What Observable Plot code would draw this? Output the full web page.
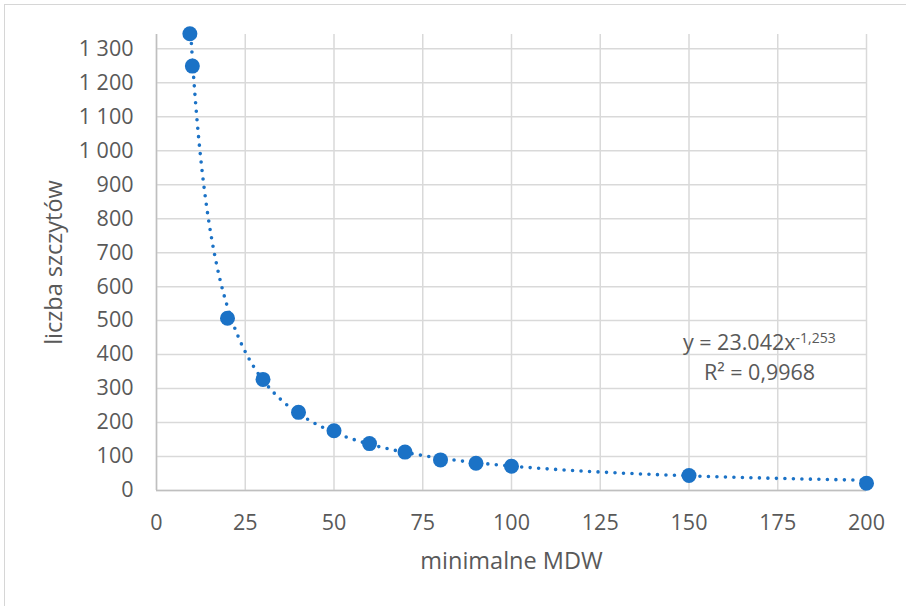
<!DOCTYPE html>
<html>
<head>
<meta charset="utf-8">
<script src="https://cdn.jsdelivr.net/npm/d3@7"></script>
<script src="https://cdn.jsdelivr.net/npm/@observablehq/plot@0.6"></script>
<style>
  html, body { margin: 0; padding: 0; background: #fff; }
  #wrap { position: relative; width: 906px; height: 606px; overflow: hidden; }
  #border { position: absolute; left: 4px; top: 4px; width: 960px; height: 660px; border-top: 1px solid #d6d6d6; border-left: 1px solid #d6d6d6; }
  #chart { position: absolute; left: 0; top: 0; }
</style>
</head>
<body>
<div id="wrap"><div id="border"></div><div id="chart"></div></div>
<script>
// Data
const mdw = [9.4, 10.1, 20, 30, 40, 50, 60, 70, 80, 90, 100, 150, 200];
const peaks = [1344, 1249, 507, 327, 230, 176, 138, 113, 90, 80, 71.5, 44, 21.5];
const xTicks = [0, 25, 50, 75, 100, 125, 150, 175, 200];
const yTicks = [0, 100, 200, 300, 400, 500, 600, 700, 800, 900, 1000, 1100, 1200, 1300];
// Trendline as printed on the chart: y = 23042 x^-1.253, R² = 0.9968
const trendCoef = 23042;
const trendExp = -1.253;
const eqMain = "y = 23.042x";
const eqPow = "-1,253";
const eqR2 = "R² = 0,9968";
const xLabel = "minimalne MDW";
const yLabel = "liczba szczytów";

const points = mdw.map((x, i) => ({x, y: peaks[i]}));
const trend = d3.range(d3.min(mdw), d3.max(mdw) + 0.001, 0.5).map(x => ({x, y: trendCoef * Math.pow(x, trendExp)}));

const fmt = d => d3.format(",")(d).replace(/,/g, " ");
const blue = "#1b72c6";
const grid = "#d9d9d9";

const chart = Plot.plot({
  width: 906,
  height: 606,
  marginLeft: 156,
  marginRight: 40,
  marginTop: 34,
  marginBottom: 116,
  style: {fontFamily: "'Open Sans', sans-serif", fontSize: "21.5px", color: "#595959", background: "transparent"},
  x: {domain: [0, 200]},
  y: {domain: [0, 1342]},
  marks: [
    Plot.gridX(xTicks, {stroke: grid, strokeOpacity: 1, strokeWidth: 1.5}),
    Plot.gridY(yTicks, {stroke: grid, strokeOpacity: 1, strokeWidth: 1.5}),
    Plot.ruleX([0], {stroke: "#bfbfbf", strokeWidth: 1.5}),
    Plot.ruleY([0], {stroke: "#bfbfbf", strokeWidth: 1.5}),
    Plot.axisX({ticks: xTicks, tickSize: 0, tickPadding: 24.5, label: null, fontSize: 21.5}),
    Plot.axisY({ticks: yTicks, tickSize: 0, tickPadding: 23, tickFormat: fmt, label: null, fontSize: 21.5}),
    Plot.line(trend, {x: "x", y: "y", stroke: blue, strokeWidth: 3.6, strokeDasharray: "0,8.5", strokeLinecap: "round", clip: true}),
    Plot.dot(points, {x: "x", y: "y", r: 7.5, fill: blue, stroke: null}),
    Plot.text([xLabel], {frameAnchor: "bottom", dy: 70.5, fontSize: 23.5, textAnchor: "middle", lineAnchor: "middle", fill: "#595959"}),
    Plot.text([yLabel], {frameAnchor: "left", dx: -102, rotate: -90, fontSize: 23.5, textAnchor: "middle", lineAnchor: "middle", fill: "#595959"}),
    Plot.text([eqMain], {frameAnchor: "top-right", dx: -71, dy: 308.5, textAnchor: "end", lineAnchor: "middle", fontSize: 21.5, fill: "#595959"}),
    Plot.text([eqPow], {frameAnchor: "top-right", dx: -71, dy: 304, textAnchor: "start", lineAnchor: "middle", fontSize: 14, fill: "#595959"}),
    Plot.text([eqR2], {frameAnchor: "top-right", dx: -107, dy: 338.5, textAnchor: "middle", lineAnchor: "middle", fontSize: 21.5, fill: "#595959"})
  ]
});
document.getElementById("chart").appendChild(chart);
</script>
</body>
</html>
